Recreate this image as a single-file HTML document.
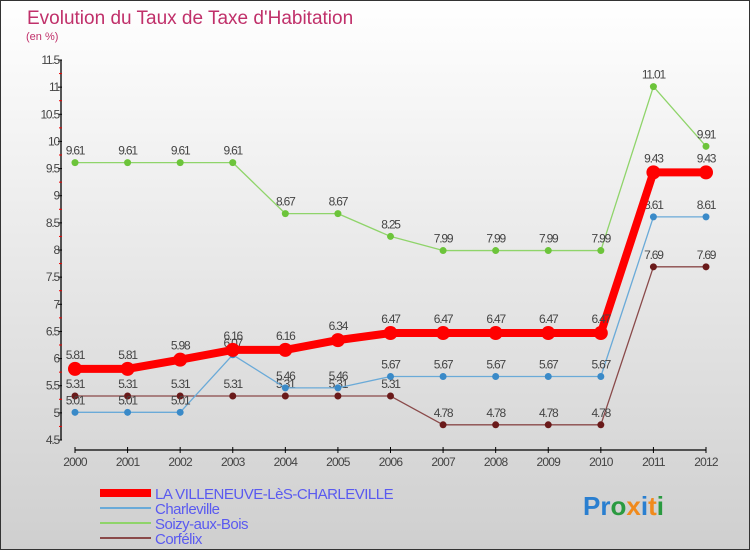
<!DOCTYPE html>
<html><head><meta charset="utf-8"><style>
html,body{margin:0;padding:0}
body{width:750px;height:550px;overflow:hidden;font-family:"Liberation Sans",sans-serif}
svg text{font-family:"Liberation Sans",sans-serif}
</style></head><body>
<svg id="chart" width="750" height="550" xmlns="http://www.w3.org/2000/svg">
<defs><linearGradient id="bg" x1="0" y1="0" x2="0" y2="1"><stop offset="0" stop-color="#ffffff"/><stop offset="1" stop-color="#cfcfcf"/></linearGradient></defs>
<rect x="0.5" y="0.5" width="749" height="549" fill="url(#bg)" stroke="#333"/>
<text x="27" y="24" font-size="19" fill="#c0306a">Evolution du Taux de Taxe d'Habitation</text>
<text x="26" y="40" font-size="11" fill="#c0306a">(en %)</text>
<g id="axes"></g><g id="series"></g><g id="legend"></g>
<text x="583" y="515" font-size="26" font-weight="bold"><tspan fill="#2a7fd0">Pr</tspan><tspan fill="#2a9a40">o</tspan><tspan fill="#f08a1c">x</tspan><tspan fill="#2a7fd0">i</tspan><tspan fill="#f08a1c">t</tspan><tspan fill="#2a9a40">i</tspan></text>
</svg>
<script>
const years=[2000,2001,2002,2003,2004,2005,2006,2007,2008,2009,2010,2011,2012];
const yTicks=[4.5,5,5.5,6,6.5,7,7.5,8,8.5,9,9.5,10,10.5,11,11.5];
const villeneuve=[5.81,5.81,5.98,6.16,6.16,6.34,6.47,6.47,6.47,6.47,6.47,9.43,9.43];
const charleville=[5.01,5.01,5.01,6.07,5.46,5.46,5.67,5.67,5.67,5.67,5.67,8.61,8.61];
const soizy=[9.61,9.61,9.61,9.61,8.67,8.67,8.25,7.99,7.99,7.99,7.99,11.01,9.91];
const corfelix=[5.31,5.31,5.31,5.31,5.31,5.31,5.31,4.78,4.78,4.78,4.78,7.69,7.69];
const seriesNames=["LA VILLENEUVE-LèS-CHARLEVILLE","Charleville","Soizy-aux-Bois","Corfélix"];
const NS="http://www.w3.org/2000/svg";
function X(i){return 75+i*(706-75)/(years.length-1);}
function Y(v){return 440-(v-4.5)*(380/7);}
function mk(tag,attrs,parent){const e=document.createElementNS(NS,tag);for(const k in attrs)e.setAttribute(k,attrs[k]);parent.appendChild(e);return e;}
const axes=document.getElementById('axes');
let ya=mk('line',{x1:61,y1:Y(11.5),x2:61,y2:Y(4.5),stroke:'#000','stroke-width':1.3},axes);


yTicks.forEach((t,k)=>{
  mk('line',{x1:58,x2:62,y1:Y(t),y2:Y(t),stroke:'#000'},axes);
  if(k<yTicks.length-1) mk('line',{x1:59,x2:62,y1:Y(t+0.25),y2:Y(t+0.25),stroke:'#e00'},axes);
  let tx=mk('text',{x:59,y:Y(t)+4,'font-size':12,fill:'#444','text-anchor':'end','letter-spacing':'-1.2'},axes);
  tx.textContent=String(t);
  
  
});
let xa=mk('line',{x1:75,y1:450,x2:706,y2:450,stroke:'#000','stroke-width':1.3},axes);


years.forEach((yr,i)=>{
  mk('line',{x1:X(i),x2:X(i),y1:447,y2:453,stroke:'#000'},axes);
  let tx=mk('text',{x:X(i),y:466,'font-size':12,fill:'#444','text-anchor':'middle','letter-spacing':'-0.8'},axes);
  tx.textContent=String(yr);
  
  
});
const sg=document.getElementById('series');
const defs=[
 {d:soizy,c:'#8fd46a',dot:'#6cc43a',w:1.3,r:3.5,name:'series-soizy-aux-bois'},
 {d:corfelix,c:'#8a4a4a',dot:'#6a1a1a',w:1.3,r:3.5,name:'series-corfelix'},
 {d:charleville,c:'#6aaad8',dot:'#3a8ac8',w:1.3,r:3.5,name:'series-charleville'},
 {d:villeneuve,c:'#f00',dot:'#f00',w:8,r:7,name:'series-la-villeneuve'}
];
defs.forEach(s=>{
  const g=mk('g',{},sg);
  
  
  mk('polyline',{points:s.d.map((v,i)=>X(i)+','+Y(v)).join(' '),fill:'none',stroke:s.c,'stroke-width':s.w,'stroke-linejoin':'round'},g);
  s.d.forEach((v,i)=>{
    const c=mk('circle',{cx:X(i),cy:Y(v),r:s.r,fill:s.dot},g);
    
    
    const t=mk('text',{x:X(i),y:Y(v)-(s.w>5?10:8),'font-size':12,fill:'#444','text-anchor':'middle','letter-spacing':'-1.2'},g);
    t.textContent=String(v);
    
    
  });
});
const lg=document.getElementById('legend');
const lc=[['#f00',8],['#6aaad8',2],['#8fd46a',2],['#8a4a4a',2]];
seriesNames.forEach((n,i)=>{
  const y=493+i*15;
  const g=mk('g',{},lg);
  
  
  mk('line',{x1:100,x2:151,y1:y,y2:y,stroke:lc[i][0],'stroke-width':lc[i][1]},g);
  const t=mk('text',{x:155,y:y+6,'font-size':15,fill:'#5a5af0','letter-spacing':'-0.5'},g);
  t.textContent=n;
});
</script>
</body></html>
